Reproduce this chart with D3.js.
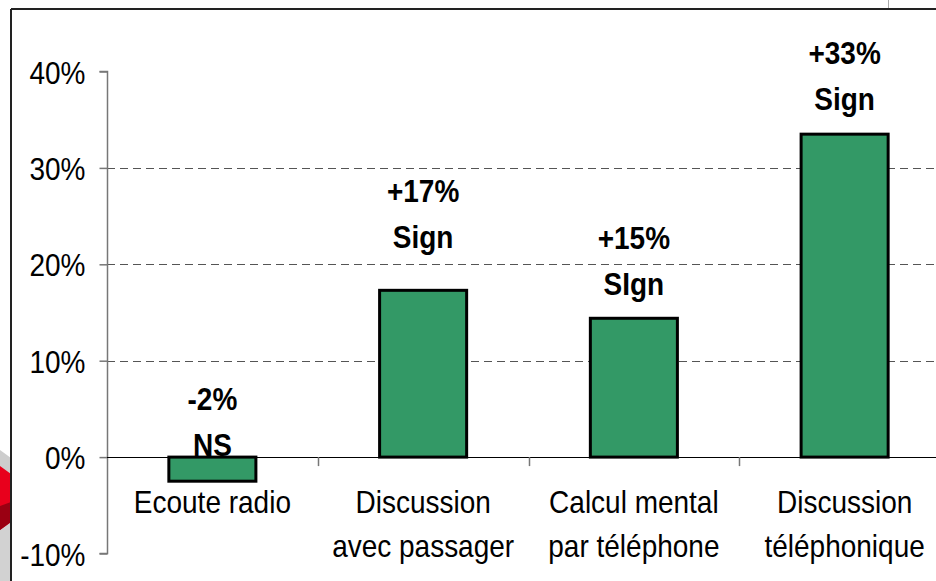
<!DOCTYPE html>
<html>
<head>
  <meta charset="utf-8">
  <title>Effet des tâches secondaires</title>
  <script src="https://d3js.org/d3.v7.min.js"></script>
</head>

<style>
body { margin: 0; background: white; }
svg text { font-family: "Liberation Sans", Arial, sans-serif; }
</style>

<body>
</body>
<script>

  // chart data
  var categories = [["Ecoute radio"], ["Discussion", "avec passager"], ["Calcul mental", "par téléphone"], ["Discussion", "téléphonique"]];
  var values = [-2.5, 17.3, 14.4, 33.5];
  var pctLabels = ["-2%", "+17%", "+15%", "+33%"];
  var sigLabels = ["NS", "Sign", "SIgn", "Sign"];
  var labelAt = [0.1, 21.7, 16.8, 36.0]; // value where the second label line sits
  var yTicks = [-10, 0, 10, 20, 30, 40];

  var width = 936, height = 581;
  var stretch = "scale(1,1.15)"; // the slide text is a bit taller than plain Arial

  var svg = d3.select("body").append("svg")
    .attr("width", width)
    .attr("height", height);

  // bits of the slide behind the chart, at the left edge
  var deco = svg.append("g");
  deco.append("rect").attr("x", 0).attr("y", 522).attr("width", 11).attr("height", 59).attr("fill", "#d2d2d2");
  deco.append("polygon").attr("points", "0,450 11,458 11,476 0,468").attr("fill", "#b8b8b8").attr("opacity", 0.7);
  deco.append("polygon").attr("points", "0,466 11,474 11,522 0,530").attr("fill", "#e8001c");
  deco.append("polygon").attr("points", "0,506 11,502 11,522 0,530").attr("fill", "#9a0012");

  // frame
  svg.append("line").attr("x1", 11).attr("x2", 11).attr("y1", 9).attr("y2", height)
    .attr("stroke", "#222").attr("stroke-width", 2);
  svg.append("line").attr("x1", 11).attr("x2", width).attr("y1", 9).attr("y2", 9)
    .attr("stroke", "#222").attr("stroke-width", 2);
  svg.append("line").attr("x1", 888.5).attr("x2", 888.5).attr("y1", 0).attr("y2", 8)
    .attr("stroke", "#aaa").attr("stroke-width", 1);

  var xScale = d3.scaleBand()
    .domain(d3.range(categories.length))
    .range([107, 950])
    .padding(0);

  var yScale = d3.scaleLinear()
    .domain([-10, 40])
    .range([553.5, 71.5]);

  // gridlines
  svg.selectAll(".grid")
    .data(yTicks.filter(function(d) { return d > 0 && d < 40; }))
    .enter().append("line")
      .attr("class", "grid")
      .attr("x1", 107).attr("x2", width)
      .attr("y1", function(d) { return Math.round(yScale(d)) + 0.5; })
      .attr("y2", function(d) { return Math.round(yScale(d)) + 0.5; })
      .attr("stroke", "#555")
      .attr("stroke-dasharray", "8,5");

  // y axis
  var yAxis = svg.append("g")
    .attr("transform", "translate(107.5,0)")
    .call(d3.axisLeft(yScale).tickValues(yTicks).tickSize(8).tickPadding(14)
      .tickFormat(function(d) { return d + "%"; }));
  yAxis.select(".domain").attr("stroke", "#777").attr("stroke-width", 1.5).attr("d", "M-8," + yScale(40) + "H0V" + yScale(-10) + "H-8");
  yAxis.selectAll(".tick line").attr("stroke", "#777").attr("stroke-width", 1.5);
  yAxis.selectAll(".tick text")
    .attr("fill", "#000")
    .style("font-size", "28px")
    .attr("dy", "0.36em")
    .attr("transform", stretch);

  // bars
  var barW = xScale.bandwidth() * 0.413;
  svg.selectAll(".bar")
    .data(values)
    .enter().append("rect")
      .attr("class", "bar")
      .attr("x", function(d, i) { return xScale(i) + (xScale.bandwidth() - barW) / 2; })
      .attr("y", function(d) { return yScale(Math.max(0, d)); })
      .attr("width", barW)
      .attr("height", function(d) { return Math.abs(yScale(d) - yScale(0)); })
      .attr("fill", "#339966")
      .attr("stroke", "#000")
      .attr("stroke-width", 3);

  // zero line
  svg.append("line")
    .attr("x1", 107).attr("x2", width)
    .attr("y1", Math.round(yScale(0)) + 0.5).attr("y2", Math.round(yScale(0)) + 0.5)
    .attr("stroke", "#000").attr("stroke-width", 1.2);

  // category ticks
  svg.selectAll(".ctick")
    .data(d3.range(1, categories.length))
    .enter().append("line")
      .attr("x1", function(d) { return Math.round(xScale(d)) + 0.5; })
      .attr("x2", function(d) { return Math.round(xScale(d)) + 0.5; })
      .attr("y1", yScale(0)).attr("y2", yScale(0) + 9)
      .attr("stroke", "#777").attr("stroke-width", 1.5);

  // category labels
  categories.forEach(function(lines, i) {
    var cx = xScale(i) + xScale.bandwidth() / 2;
    var t = svg.append("text")
      .attr("transform", "translate(" + cx + ",513) " + stretch)
      .attr("text-anchor", "middle")
      .style("font-size", "28px");
    lines.forEach(function(s, j) {
      t.append("tspan")
        .attr("x", 0)
        .attr("dy", j === 0 ? 0 : 44 / 1.15)
        .text(s);
    });
  });

  // value labels
  values.forEach(function(v, i) {
    var cx = xScale(i) + xScale.bandwidth() / 2;
    [pctLabels[i], sigLabels[i]].forEach(function(s, j) {
      svg.append("text")
        .attr("transform", "translate(" + cx + "," + (yScale(labelAt[i]) - (j === 0 ? 46 : 0)) + ") " + stretch)
        .attr("text-anchor", "middle")
        .style("font-size", "28px")
        .style("font-weight", "bold")
        .text(s);
    });
  });

</script>
</html>
